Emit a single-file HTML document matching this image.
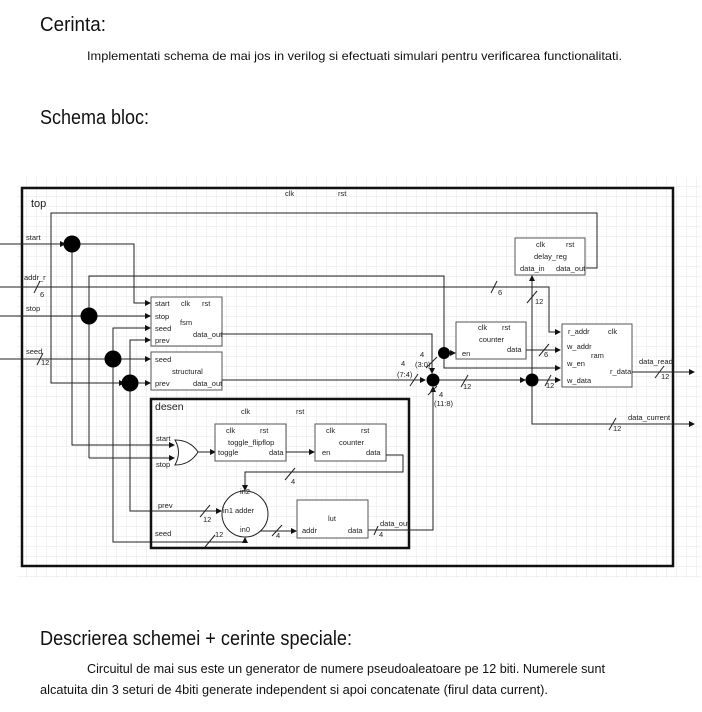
<!DOCTYPE html>
<html><head><meta charset="utf-8"><style>
html,body{margin:0;padding:0;background:#fff;}
svg{display:block;font-family:"Liberation Sans",sans-serif;}
.t{font-size:7.5px;fill:#222;}
.w{stroke:#222;stroke-width:1;fill:none;}
.b{stroke:#555;stroke-width:1;fill:#fff;}
</style></head><body>
<svg width="702" height="712" viewBox="0 0 702 712" xmlns="http://www.w3.org/2000/svg">
<defs>
<pattern id="g" width="10" height="10" patternUnits="userSpaceOnUse" x="17" y="177">
<path d="M10 0V10M0 10H10" stroke="#e4e4e4" stroke-width="1" fill="none"/>
</pattern>
<marker id="a" markerWidth="6" markerHeight="6" refX="5" refY="3" orient="auto" markerUnits="userSpaceOnUse">
<path d="M0 0L6 3L0 6z" fill="#111"/>
</marker>
</defs>
<text x="40" y="31" font-size="20" fill="#111" textLength="66" lengthAdjust="spacingAndGlyphs">Cerinta:</text>
<text x="87" y="60" font-size="12" fill="#111" textLength="535" lengthAdjust="spacingAndGlyphs">Implementati schema de mai jos in verilog si efectuati simulari pentru verificarea functionalitati.</text>
<text x="40" y="124" font-size="20" fill="#111" textLength="109" lengthAdjust="spacingAndGlyphs">Schema bloc:</text>

<rect x="17" y="177" width="684" height="401" fill="url(#g)"/>
<rect x="22" y="188" width="651" height="378" fill="none" stroke="#111" stroke-width="2.5"/>
<text x="31" y="207" font-size="11" fill="#222">top</text>
<text class="t" x="285" y="196">clk</text><text class="t" x="338" y="196">rst</text>

<!-- feedback -->
<polyline class="w" points="586,268 597,268 597,213 51,213 51,383 124,383" marker-end="url(#a)"/>
<!-- start -->
<line class="w" x1="0" y1="244" x2="65" y2="244" marker-end="url(#a)"/>
<text class="t" x="26" y="240">start</text>
<polyline class="w" points="72,244 134,244 134,303 150,303" marker-end="url(#a)"/>
<polyline class="w" points="72,244 72,445 174,445" marker-end="url(#a)"/>
<!-- addr_r -->
<text class="t" x="24" y="280">addr_r</text>
<polyline class="w" points="0,287 549,287 549,332 560,332" marker-end="url(#a)"/>
<line class="w" x1="34" y1="293" x2="40" y2="281"/><text class="t" x="40" y="297">6</text>
<line class="w" x1="491" y1="293" x2="497" y2="281"/><text class="t" x="498" y="295">6</text>
<!-- stop -->
<text class="t" x="26" y="311">stop</text>
<line class="w" x1="0" y1="316" x2="150" y2="316" marker-end="url(#a)"/>
<polyline class="w" points="89,458 89,276 444,276 444,353"/>
<polyline class="w" points="89,458 174,458" marker-end="url(#a)"/>
<!-- seed -->
<text class="t" x="26" y="354">seed</text>
<line class="w" x1="0" y1="359" x2="150" y2="359" marker-end="url(#a)"/>
<line class="w" x1="37" y1="365" x2="43" y2="353"/><text class="t" x="41" y="365">12</text>
<polyline class="w" points="113,359 113,328 150,328" marker-end="url(#a)"/>
<polyline class="w" points="113,359 113,542 245,542 245,538" marker-end="url(#a)"/>
<!-- prev -->
<polyline class="w" points="130,383 150,383" marker-end="url(#a)"/>
<polyline class="w" points="130,383 130,340 150,340" marker-end="url(#a)"/>
<polyline class="w" points="130,383 130,511 221,511" marker-end="url(#a)"/>

<circle cx="72" cy="244" r="8.5" fill="#000"/>
<circle cx="89" cy="316" r="8.5" fill="#000"/>
<circle cx="113" cy="359" r="8.5" fill="#000"/>
<circle cx="130" cy="383" r="8.5" fill="#000"/>

<!-- fsm -->
<rect class="b" x="151" y="297" width="71" height="49"/>
<text class="t" x="155" y="306">start</text><text class="t" x="181" y="306">clk</text><text class="t" x="202" y="306">rst</text>
<text class="t" x="155" y="319">stop</text><text class="t" x="180" y="325">fsm</text>
<text class="t" x="155" y="331">seed</text><text class="t" x="193" y="337">data_out</text>
<text class="t" x="155" y="343">prev</text>
<polyline class="w" points="222,334 432,334 432,373" marker-end="url(#a)"/>
<line class="w" x1="426" y1="368" x2="437" y2="357"/>
<text class="t" x="420" y="357">4</text><text class="t" x="415" y="367">(3:0)</text>
<!-- structural -->
<rect class="b" x="151" y="352" width="71" height="38"/>
<text class="t" x="155" y="362">seed</text><text class="t" x="172" y="374">structural</text>
<text class="t" x="155" y="386">prev</text><text class="t" x="193" y="386">data_out</text>
<line class="w" x1="222" y1="380" x2="425" y2="380" marker-end="url(#a)"/>
<line class="w" x1="410" y1="386" x2="418" y2="374"/>
<text class="t" x="401" y="366" >4</text><text class="t" x="397" y="377">(7:4)</text>
<line class="w" x1="433" y1="380" x2="525" y2="380" marker-end="url(#a)"/>
<line class="w" x1="461" y1="387" x2="468" y2="375"/><text class="t" x="463" y="389">12</text>
<circle cx="433" cy="380" r="6.5" fill="#000"/>
<!-- counter top -->
<rect class="b" x="456" y="322" width="70" height="37"/>
<text class="t" x="478" y="330">clk</text><text class="t" x="502" y="330">rst</text>
<text class="t" x="479" y="342">counter</text>
<text class="t" x="462" y="356">en</text><text class="t" x="507" y="352">data</text>
<line class="w" x1="444" y1="353" x2="455" y2="353" marker-end="url(#a)"/>
<polyline class="w" points="444,353 444,368 560,368" marker-end="url(#a)"/>
<circle cx="444" cy="353" r="6" fill="#000"/>
<line class="w" x1="526" y1="350" x2="560" y2="350" marker-end="url(#a)"/>
<line class="w" x1="539" y1="356" x2="549" y2="344"/><text class="t" x="544" y="357">6</text>
<!-- dot 532 -->
<polyline class="w" points="532,380 532,276" marker-end="url(#a)"/>
<line class="w" x1="527" y1="303" x2="537" y2="291"/><text class="t" x="535" y="304">12</text>
<line class="w" x1="532" y1="380" x2="560" y2="380" marker-end="url(#a)"/>
<line class="w" x1="545" y1="386" x2="551" y2="375"/><text class="t" x="546" y="388">12</text>
<polyline class="w" points="532,380 532,424 694,424" marker-end="url(#a)"/>
<line class="w" x1="609" y1="430" x2="616" y2="418"/><text class="t" x="613" y="431">12</text>
<text class="t" x="628" y="420">data_current</text>
<circle cx="532" cy="380" r="6.5" fill="#000"/>
<!-- delay_reg -->
<rect class="b" x="515" y="238" width="70" height="37"/>
<text class="t" x="536" y="247">clk</text><text class="t" x="566" y="247">rst</text>
<text class="t" x="534" y="259">delay_reg</text>
<text class="t" x="520" y="271">data_in</text><text class="t" x="556" y="271">data_out</text>
<!-- ram -->
<rect class="b" x="562" y="324" width="70" height="63"/>
<text class="t" x="568" y="334">r_addr</text><text class="t" x="608" y="334">clk</text>
<text class="t" x="567" y="349">w_addr</text><text class="t" x="591" y="358">ram</text>
<text class="t" x="567" y="366">w_en</text><text class="t" x="610" y="374">r_data</text>
<text class="t" x="567" y="383">w_data</text>
<line class="w" x1="632" y1="372" x2="694" y2="372" marker-end="url(#a)"/>
<text class="t" x="639" y="364">data_read</text>
<line class="w" x1="655" y1="378" x2="664" y2="366"/><text class="t" x="661" y="379">12</text>

<!-- desen -->
<rect x="151" y="399" width="258" height="149" fill="none" stroke="#111" stroke-width="2.5"/>
<text x="155" y="410" font-size="10.5" fill="#222">desen</text>
<text class="t" x="241" y="414">clk</text><text class="t" x="296" y="414">rst</text>
<text class="t" x="156" y="441">start</text><text class="t" x="156" y="467">stop</text>
<path d="M175 440 Q190 440 198 452 Q190 465 175 465 Q182 452 175 440z" fill="#fff" stroke="#222" stroke-width="1"/>
<line class="w" x1="198" y1="452" x2="215" y2="452" marker-end="url(#a)"/>
<rect class="b" x="215" y="424" width="71" height="37"/>
<text class="t" x="226" y="433">clk</text><text class="t" x="260" y="433">rst</text>
<text class="t" x="228" y="445">toggle_flipflop</text>
<text class="t" x="218" y="455">toggle</text><text class="t" x="269" y="455">data</text>
<line class="w" x1="286" y1="452" x2="314" y2="452" marker-end="url(#a)"/>
<rect class="b" x="315" y="424" width="71" height="37"/>
<text class="t" x="326" y="433">clk</text><text class="t" x="361" y="433">rst</text>
<text class="t" x="339" y="445">counter</text>
<text class="t" x="322" y="455">en</text><text class="t" x="366" y="455">data</text>
<polyline class="w" points="386,455 403,455 403,472 245,472 245,490" marker-end="url(#a)"/>
<line class="w" x1="285" y1="480" x2="295" y2="468"/><text class="t" x="291" y="484">4</text>
<circle cx="245" cy="514" r="23" fill="#fff" stroke="#222"/>
<text class="t" x="240" y="494">in2</text>
<text class="t" x="223" y="513">in1</text><text class="t" x="235" y="513">adder</text>
<text class="t" x="240" y="532">in0</text>
<text class="t" x="158" y="508">prev</text><text class="t" x="155" y="536">seed</text>
<line class="w" x1="200" y1="517" x2="210" y2="505"/><text class="t" x="203" y="522">12</text>
<line class="w" x1="205" y1="547" x2="215" y2="535"/><text class="t" x="215" y="537">12</text>
<line class="w" x1="260" y1="531" x2="296" y2="531" marker-end="url(#a)"/>
<line class="w" x1="272" y1="536" x2="282" y2="525"/><text class="t" x="276" y="538">4</text>
<rect class="b" x="297" y="500" width="71" height="38"/>
<text class="t" x="328" y="521">lut</text>
<text class="t" x="302" y="533">addr</text><text class="t" x="348" y="533">data</text>
<polyline class="w" points="368,530 433,530 433,387" marker-end="url(#a)"/>
<text class="t" x="380" y="526">data_out</text>
<line class="w" x1="374" y1="535" x2="378" y2="526"/><text class="t" x="379" y="537">4</text>
<line class="w" x1="428" y1="395" x2="437" y2="386"/>
<text class="t" x="439" y="397">4</text><text class="t" x="434" y="406">(11:8)</text>

<text x="40" y="645" font-size="20" fill="#111" textLength="312" lengthAdjust="spacingAndGlyphs">Descrierea schemei + cerinte speciale:</text>
<text x="87" y="673" font-size="12.5" fill="#111" textLength="518" lengthAdjust="spacingAndGlyphs">Circuitul de mai sus este un generator de numere pseudoaleatoare pe 12 biti. Numerele sunt</text>
<text x="40" y="694" font-size="12.5" fill="#111" textLength="508" lengthAdjust="spacingAndGlyphs">alcatuita din 3 seturi de 4biti generate independent si apoi concatenate (firul data current).</text>
</svg>
</body></html>
